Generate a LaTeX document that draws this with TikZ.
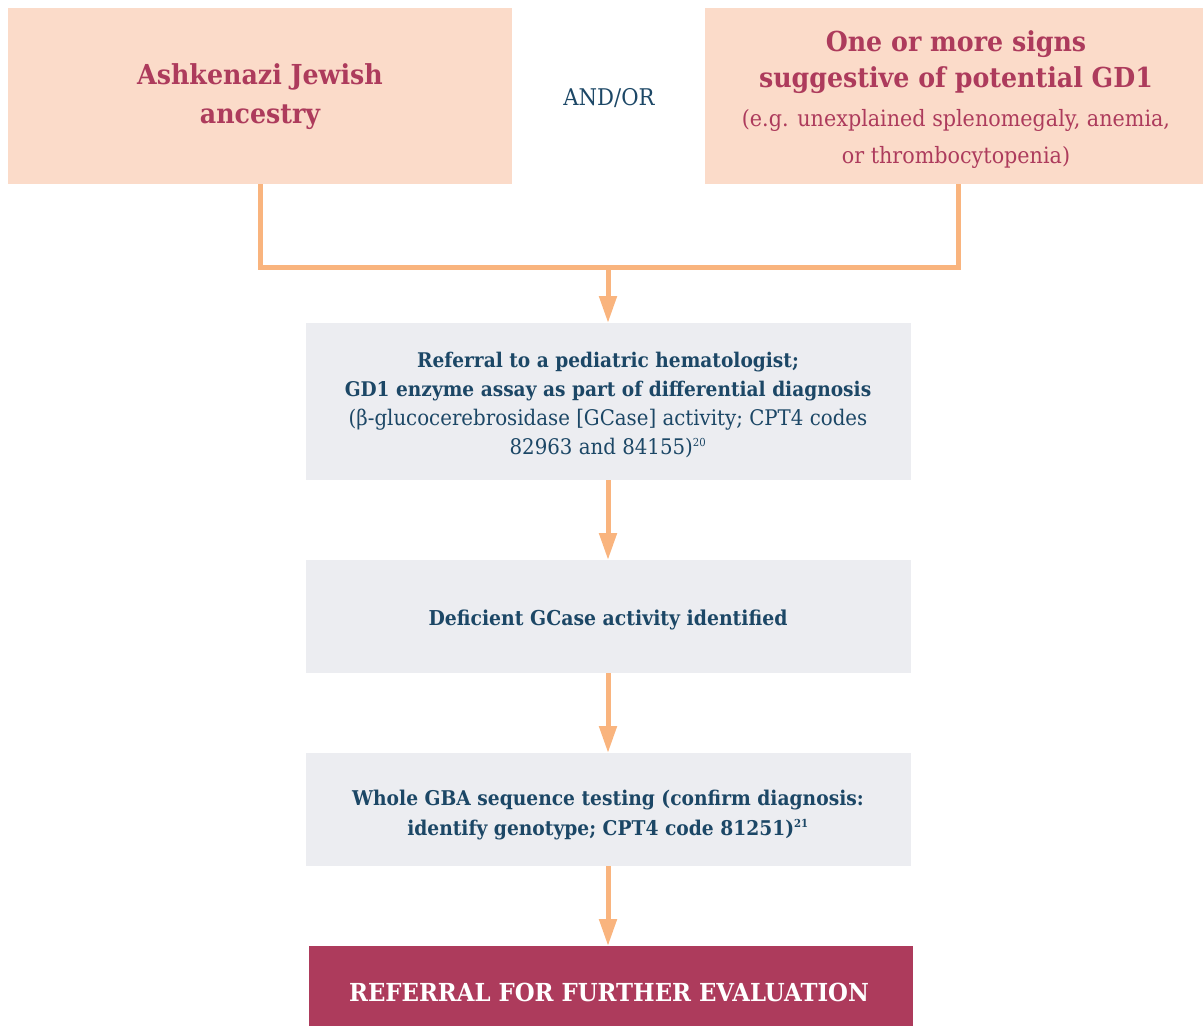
\documentclass[tikz,border=0pt]{standalone}
\usepackage{fontspec}
\setmainfont{DejaVu Serif}[FakeStretch=0.92]
\usetikzlibrary{arrows.meta}
\definecolor{pinkbg}{HTML}{FBDBC9}
\definecolor{crimson}{HTML}{AD3B5C}
\definecolor{navy}{HTML}{1C4766}
\definecolor{graybg}{HTML}{ECEDF1}
\definecolor{orangeln}{HTML}{F9B47E}
\tikzset{
  pinkbox/.style={fill=pinkbg, draw=none, inner sep=0pt},
  graybox/.style={fill=graybg, draw=none, inner sep=0pt},
  finalbox/.style={fill=crimson, draw=none, inner sep=0pt},
  conn/.style={draw=orangeln, line width=5pt},
  arr/.style={conn, -{Triangle[length=27pt,width=17pt]}},
}
\newcommand{\supsm}[1]{\textsuperscript{\fontsize{11}{11}\selectfont #1}}
\begin{document}
\begin{tikzpicture}[x=1pt,y=-1pt]
\useasboundingbox (0,0) rectangle (1203,1026);
% boxes
\path[pinkbox] (8,8) rectangle (512,184);
\path[pinkbox] (705,8) rectangle (1203,184);
\path[graybox] (306,323) rectangle (911,480);
\path[graybox] (306,560) rectangle (911,673);
\path[graybox] (306,753) rectangle (911,866);
\path[finalbox] (309,946) rectangle (913,1026);
% named anchors
\coordinate (Abot) at (260,184);
\coordinate (Bbot) at (958,184);
\coordinate (J) at (608,267);
\coordinate (Jl) at (260,267);
\coordinate (Jr) at (958,267);
\coordinate (C1t) at (608,323);
\coordinate (C1b) at (608,480);
\coordinate (C2t) at (608,560);
\coordinate (C2b) at (608,673);
\coordinate (C3t) at (608,753);
\coordinate (C3b) at (608,866);
\coordinate (C4t) at (608,946);
% texts
\node[align=center, text=crimson, font=\fontsize{27.5}{39}\selectfont\bfseries] (ta) at (260,97) {Ashkenazi Jewish\\ancestry};
\node[text=navy, font=\fontsize{23}{24}\selectfont] (andor) at (609,98) {AND/OR};
\node[align=center, text=crimson, font=\fontsize{27.5}{36}\selectfont\bfseries] (tb) at (956,62) {One or more signs\\suggestive of potential GD1};
\node[align=center, text=crimson, font=\fontsize{22.5}{37}\selectfont] (tbs) at (956,138.5) {(e.g. unexplained splenomegaly, anemia,\\or thrombocytopenia)};
\node[align=center, text=navy, font=\fontsize{20.2}{29}\selectfont\bfseries] (t1) at (608,377) {Referral to a pediatric hematologist;\\GD1 enzyme assay as part of differential diagnosis};
\node[align=center, text=navy, font=\fontsize{21.5}{29}\selectfont] (t1s) at (608,433) {(β-glucocerebrosidase [GCase] activity; CPT4 codes\\82963 and 84155)\supsm{20}};
\node[text=navy, font=\fontsize{20.5}{24}\selectfont\bfseries] (t2) at (608,620) {Deficient GCase activity identified};
\node[align=center, text=navy, font=\fontsize{20.3}{30}\selectfont\bfseries] (t3) at (608,815) {Whole GBA sequence testing (confirm diagnosis:\\identify genotype; CPT4 code 81251)\supsm{21}};
\node[text=white, font=\fontsize{24.8}{28}\selectfont\bfseries] (t4) at (609,992) {REFERRAL FOR FURTHER EVALUATION};
% connectors
\draw[conn, line join=miter] (Abot) -- (Jl) -- (Jr) -- (Bbot);
\draw[arr] (J) -- (C1t);
\draw[arr] (C1b) -- (C2t);
\draw[arr] (C2b) -- (C3t);
\draw[arr] (C3b) -- (C4t);
\end{tikzpicture}
\end{document}
